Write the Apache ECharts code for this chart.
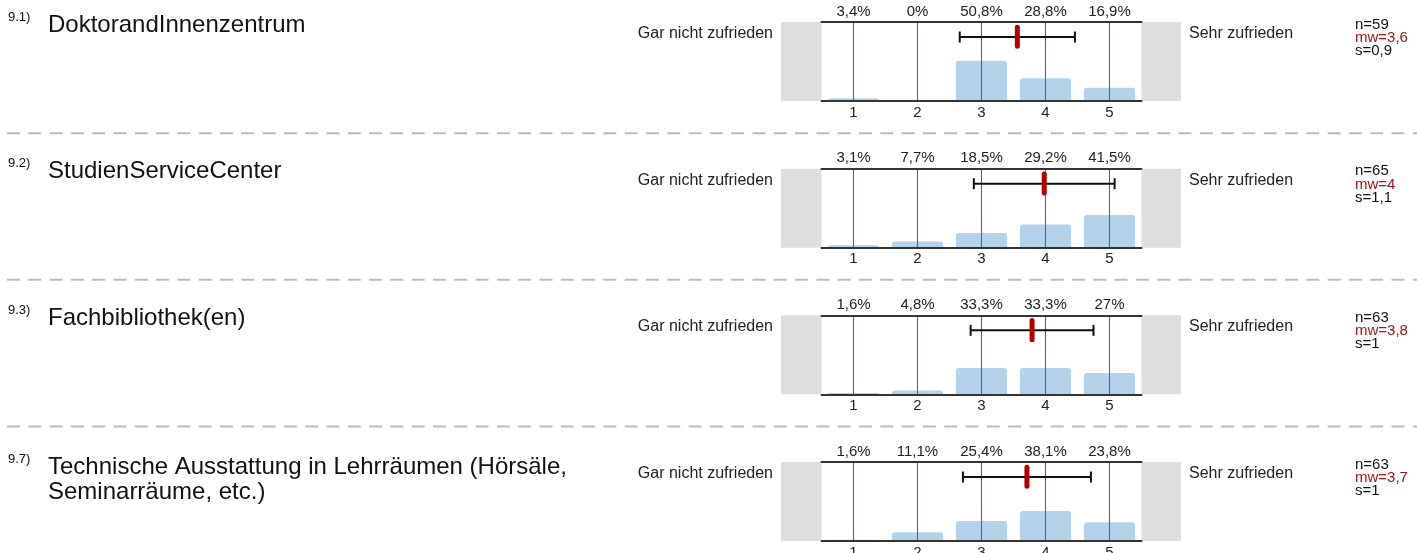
<!DOCTYPE html>
<html>
<head>
<meta charset="utf-8">
<script src="https://cdn.jsdelivr.net/npm/echarts@6/dist/echarts.min.js"></script>
<style>
html,body{margin:0;padding:0;background:#fff;}
#c{width:1417px;height:553px;}
</style>
</head>
<body>
<div id="c"></div>
<script>
// ---- data ----
const categories = ['1', '2', '3', '4', '5'];
const itemNumbers = ['9.1)', '9.2)', '9.3)', '9.7)'];
const itemTitles = [
  ['DoktorandInnenzentrum'],
  ['StudienServiceCenter'],
  ['Fachbibliothek(en)'],
  ['Technische Ausstattung in Lehrräumen (Hörsäle,', 'Seminarräume, etc.)']
];
const pct91 = [3.4, 0, 50.8, 28.8, 16.9];
const pct92 = [3.1, 7.7, 18.5, 29.2, 41.5];
const pct93 = [1.6, 4.8, 33.3, 33.3, 27];
const pct97 = [1.6, 11.1, 25.4, 38.1, 23.8];
const percentages = [pct91, pct92, pct93, pct97];
const nValues = [59, 65, 63, 63];
const mwLabels = ['3,6', '4', '3,8', '3,7'];
const sLabels = ['0,9', '1,1', '1', '1'];
const means = [3.56, 3.98, 3.79, 3.71];
const sds = [0.9, 1.1, 0.96, 1.0];
const leftLabel = 'Gar nicht zufrieden';
const rightLabel = 'Sehr zufrieden';

// ---- layout ----
const FONT = 'Liberation Sans, Arial, sans-serif';
const GL = 821.5, GW = 320, GH = 79;
const tops = [22, 168.67, 315.33, 462];

const fmtPct = v => String(v).replace('.', ',') + '%';

const grids = [], xAxes = [], yAxes = [], series = [], graphics = [];

function txt(text, x, y, size, color, align) {
  return {type: 'text', style: {text: text, x: x, y: y, fontSize: size, fontFamily: FONT, fill: color,
    align: align || 'left', textAlign: align || 'left', verticalAlign: 'middle', textVerticalAlign: 'middle'}};
}

tops.forEach((T, i) => {
  grids.push({left: GL, top: T, width: GW, height: GH, containLabel: false, outerBoundsMode: 'none'});
  xAxes.push({
    type: 'category', gridIndex: i, data: categories, position: 'bottom', z: 5,
    axisLine: {show: true, lineStyle: {color: '#333', width: 2}},
    axisTick: {show: false},
    axisLabel: {fontSize: 15, color: '#222', margin: 4, fontFamily: FONT},
    splitLine: {show: false}
  });
  const p = percentages[i];
  xAxes.push({
    type: 'category', gridIndex: i, data: categories, position: 'top', z: 6,
    axisLine: {show: true, lineStyle: {color: '#333', width: 2}},
    axisTick: {show: false},
    axisLabel: {fontSize: 15, color: '#222', margin: 3, fontFamily: FONT,
      formatter: (v, idx) => fmtPct(p[idx])},
    splitLine: {show: false}
  });
  xAxes.push({type: 'value', gridIndex: i, min: 0.5, max: 5.5, show: false});
  yAxes.push({type: 'value', gridIndex: i, min: 0, max: 100, show: false});

  series.push({
    type: 'bar', xAxisIndex: 3 * i, yAxisIndex: i, z: 2,
    data: p, barWidth: '80%',
    itemStyle: {color: '#b4d3ea', borderRadius: [3, 3, 0, 0]},
    silent: true
  });
  // blue vertical reference lines at each scale point
  series.push({
    type: 'custom', xAxisIndex: 3 * i + 2, yAxisIndex: i, z: 4, silent: true,
    data: categories.map(Number),
    renderItem: (params, api) => {
      const v = api.value(0);
      const a = api.coord([v, 0]);
      const b = api.coord([v, 100]);
      const x = Math.floor(a[0]) + 0.5;
      return {type: 'line', shape: {x1: x, y1: a[1], x2: x, y2: b[1]},
        style: {stroke: '#2e6cb8', lineWidth: 1.1}};
    }
  });
  series.push({
    type: 'custom', xAxisIndex: 3 * i + 2, yAxisIndex: i, z: 10,
    data: [[means[i], sds[i]]],
    renderItem: (params, api) => {
      const m = api.value(0), s = api.value(1);
      const a = api.coord([m - s, 81]);
      const b = api.coord([m + s, 81]);
      const c = api.coord([m, 81]);
      const top = api.coord([m, 96.5]);
      const bot = api.coord([m, 66]);
      const st = {stroke: '#111', lineWidth: 2};
      return {
        type: 'group',
        children: [
          {type: 'line', shape: {x1: a[0], y1: a[1], x2: b[0], y2: b[1]}, style: st},
          {type: 'line', shape: {x1: a[0], y1: a[1] - 5.5, x2: a[0], y2: a[1] + 5.5}, style: st},
          {type: 'line', shape: {x1: b[0], y1: b[1] - 5.5, x2: b[0], y2: b[1] + 5.5}, style: st},
          {type: 'rect', shape: {x: c[0] - 2.5, y: top[1], width: 5, height: bot[1] - top[1], r: 2.5},
            style: {fill: '#b00000'}}
        ]
      };
    }
  });

  graphics.push({type: 'rect', z: -1, shape: {x: 781, y: T, width: GL - 781, height: GH}, style: {fill: '#dedede'}});
  graphics.push({type: 'rect', z: -1, shape: {x: GL + GW, y: T, width: 1181 - GL - GW, height: GH}, style: {fill: '#dedede'}});

  if (i > 0) {
    graphics.push({type: 'line', shape: {x1: 7, y1: T - 35.5, x2: 1417, y2: T - 35.5},
      style: {stroke: '#bbbbbb', lineWidth: 2, lineDash: [13, 8.3]}});
  }

  const multi = itemTitles[i].length > 1;
  graphics.push(txt(itemNumbers[i], 8, T - (multi ? 3 : 5), 13, '#111'));
  itemTitles[i].forEach((line, k) => {
    graphics.push(txt(line, 48, T + (multi ? 5 : 3) + 25 * k, 24, '#111'));
  });
  graphics.push(txt(leftLabel, 773, T + 11.5, 16, '#222', 'right'));
  graphics.push(txt(rightLabel, 1189, T + 11.5, 16, '#222'));
  graphics.push(txt('n=' + nValues[i], 1355, T + 2.5, 15, '#111'));
  graphics.push(txt('mw=' + mwLabels[i], 1355, T + 15.8, 15, '#a01818'));
  graphics.push(txt('s=' + sLabels[i], 1355, T + 29, 15, '#111'));
});

const chart = echarts.init(document.getElementById('c'));
chart.setOption({
  animation: false,
  textStyle: {fontFamily: FONT},
  grid: grids,
  xAxis: xAxes,
  yAxis: yAxes,
  series: series,
  graphic: graphics
});
</script>
</body>
</html>
